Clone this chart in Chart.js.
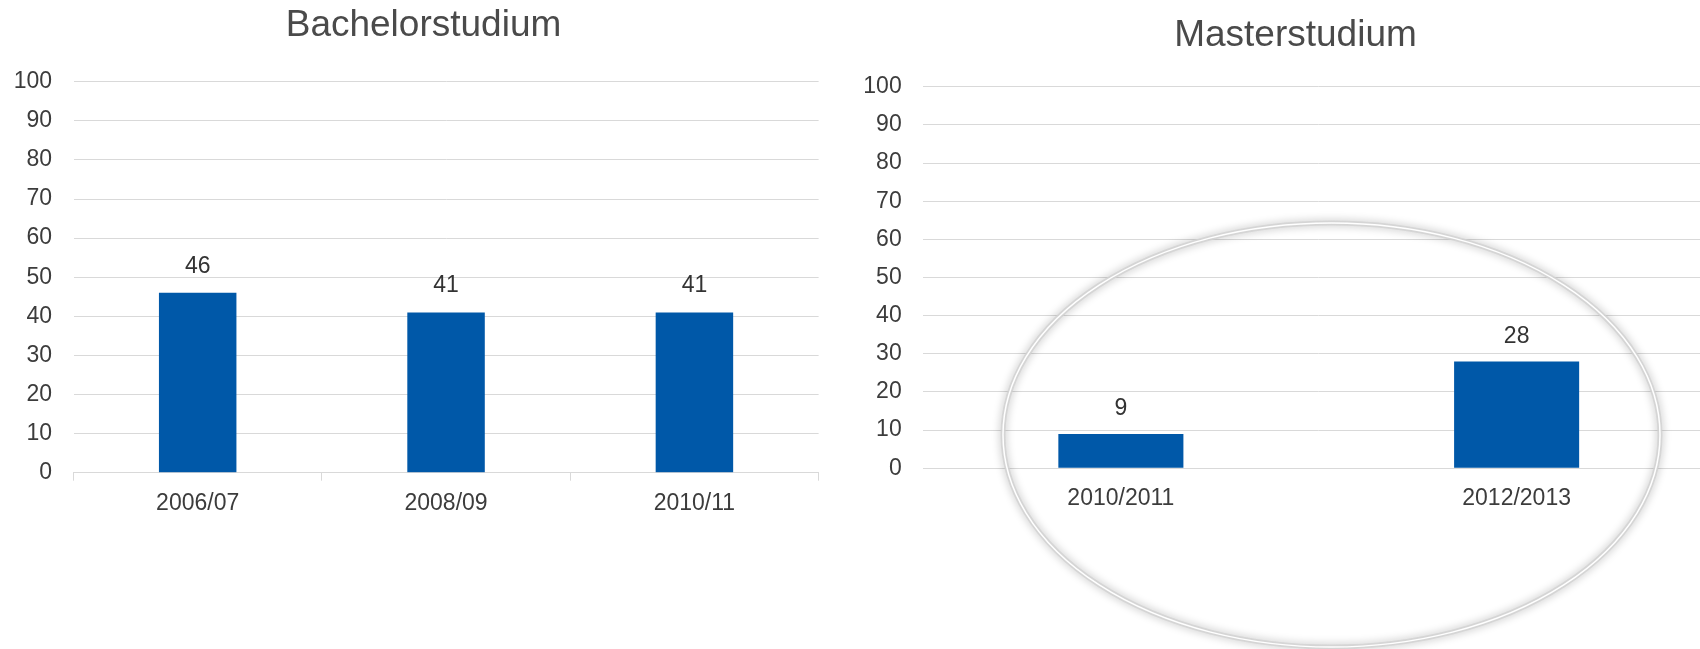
<!DOCTYPE html>
<html><head><meta charset="utf-8">
<script src="https://cdn.jsdelivr.net/npm/chart.js@4.4.1/dist/chart.umd.min.js"></script>
<style>
html,body{margin:0;padding:0;background:#fff;overflow:hidden;width:1700px;height:649px;position:relative}
canvas{position:absolute;top:0}
</style></head><body>
<canvas id="bachelor" width="847" height="649" style="left:0"></canvas>
<canvas id="master" width="891" height="649" style="left:850px"></canvas>
<script>
// ---- data ----
const bachelorTitle = 'Bachelorstudium';
const bachelorCategories = ['2006/07', '2008/09', '2010/11'];
const bachelorValues = [46, 41, 41];

const masterTitle = 'Masterstudium';
const masterCategories = ['2010/2011', '2012/2013'];
const masterValues = [9, 28];

const yMin = 0;
const yMax = 100;
const yStep = 10;

// ---- styles ----
const barColor = '#0058a8';
const gridColor = '#d9d9d9';
const textColor = '#3c3c3c';
const titleColor = '#4a4a4a';
Chart.defaults.font.family = '"Liberation Sans", Arial, sans-serif';

const valueLabels = {
  id: 'valueLabels',
  afterDatasetsDraw(chart, args, opts) {
    const ctx = chart.ctx;
    ctx.save();
    ctx.font = '23px "Liberation Sans", Arial, sans-serif';
    ctx.fillStyle = '#333333';
    ctx.textAlign = 'center';
    ctx.textBaseline = 'middle';
    const ds = chart.data.datasets[0];
    chart.getDatasetMeta(0).data.forEach((bar, i) => {
      ctx.fillText(String(ds.data[i]), bar.x, bar.y - opts.offset);
    });
    ctx.restore();
  }
};

const highlightRing = {
  id: 'highlightRing',
  afterDraw(chart, args, opts) {
    if (!opts.show) return;
    const ctx = chart.ctx;
    ctx.save();
    ctx.beginPath();
    ctx.ellipse(opts.cx, opts.cy, opts.rx, opts.ry, 0, 0, Math.PI * 2);
    ctx.shadowColor = 'rgba(0,0,0,0.30)';
    ctx.shadowBlur = 8;
    ctx.strokeStyle = 'rgba(210,210,210,0.85)';
    ctx.lineWidth = 5;
    ctx.stroke();
    ctx.shadowColor = 'transparent';
    ctx.shadowBlur = 0;
    ctx.beginPath();
    ctx.ellipse(opts.cx, opts.cy, opts.rx, opts.ry, 0, 0, Math.PI * 2);
    ctx.strokeStyle = '#ffffff';
    ctx.lineWidth = 1.5;
    ctx.stroke();
    ctx.restore();
  }
};

function makeChart(id, title, cats, vals, g) {
  return new Chart(document.getElementById(id), {
    type: 'bar',
    data: {
      labels: cats,
      datasets: [{ data: vals, backgroundColor: barColor, borderWidth: 0,
                   barPercentage: g.barPct, categoryPercentage: 1 }]
    },
    options: {
      responsive: false, animation: false, devicePixelRatio: 1,
      layout: { padding: { left: 0, right: 0, top: 0, bottom: g.padB } },
      plugins: {
        legend: { display: false },
        tooltip: { enabled: false },
        title: { display: true, text: title, color: titleColor,
                 font: { size: 37, weight: 'normal' }, padding: { top: g.tTop, bottom: g.tBot } },
        valueLabels: { offset: g.lblOff },
        highlightRing: g.ring
      },
      scales: {
        x: {
          grid: { drawOnChartArea: false, drawTicks: g.ticks, tickLength: 8, color: gridColor, offset: true },
          border: { display: true, color: gridColor },
          ticks: { color: textColor, font: { size: 23 }, padding: g.xPad, maxRotation: 0 }
        },
        y: {
          min: yMin, max: yMax,
          ticks: { stepSize: yStep, color: textColor, font: { size: 23 }, padding: g.yPad },
          grid: { color: gridColor, drawTicks: false },
          border: { display: false },
          afterFit(s) { s.width = g.yW; }
        },
        spacer: {
          position: 'right', display: true,
          grid: { display: false }, ticks: { display: false }, border: { display: false },
          afterFit(s) { s.width = g.rightW; }
        }
      }
    },
    plugins: [valueLabels, highlightRing]
  });
}

makeChart('bachelor', bachelorTitle, bachelorCategories, bachelorValues, {
  barPct: 0.312, padB: 121.7, tTop: 4, tBot: 33.3,
  lblOff: 26.6, ticks: true, xPad: 9.5, yPad: 21.5, yW: 73.5, rightW: 28.4,
  ring: { show: false }
});

makeChart('master', masterTitle, masterCategories, masterValues, {
  barPct: 0.316, padB: 119.1, tTop: 13.5, tBot: 28.8,
  lblOff: 25, ticks: false, xPad: 17, yPad: 21.3, yW: 73, rightW: 26.5,
  ring: { show: true, cx: 481.5, cy: 435, rx: 328.5, ry: 212 }
});
</script>
</body></html>
